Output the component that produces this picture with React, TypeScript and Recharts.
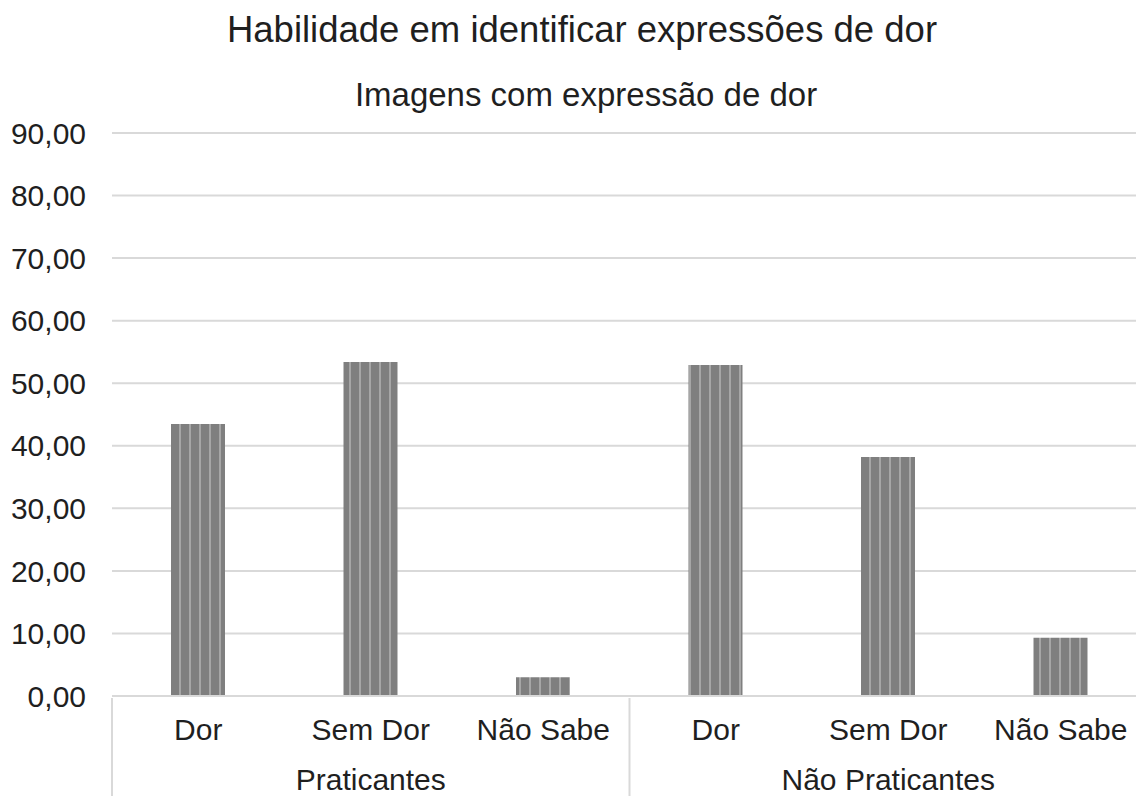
import * as React from "react";
import { BarChart, Bar, XAxis, YAxis, CartesianGrid } from "recharts";

const categories = ["Dor", "Sem Dor", "Não Sabe", "Dor", "Sem Dor", "Não Sabe"];
const groups = ["Praticantes", "Praticantes", "Praticantes", "Não Praticantes", "Não Praticantes", "Não Praticantes"];
const values = [43.5, 53.4, 3.0, 52.9, 38.2, 9.3];
const yTicks = [0, 10, 20, 30, 40, 50, 60, 70, 80, 90];

const title = "Habilidade em identificar expressões de dor";
const subtitle = "Imagens com expressão de dor";

const data = categories.map((c, i) => ({ name: c, group: groups[i], value: values[i] }));

const FONT = "'Liberation Sans', Arial, sans-serif";
const TEXT = "#1f1f1f";
const LINE = "#d9d9d9";

const fmt = (v: number) => v.toFixed(2).replace(".", ",");

// second row of the category axis: group name in the middle, separators at the edges
const GroupTick = (props: any) => {
  const { x, y, index, payload } = props;
  const half = payload && payload.offset ? payload.offset : 86;
  return (
    <g>
      {index % 3 === 0 && (
        <line x1={x - half} x2={x - half} y1={y - 50} y2={y + 50} stroke={LINE} strokeWidth={2} />
      )}
      {index % 3 === 1 && (
        <text x={x} y={y + 42} textAnchor="middle" fill={TEXT} fontSize={30} fontFamily={FONT}>
          {payload.value}
        </text>
      )}
    </g>
  );
};

export default function App() {
  return (
    <div style={{ position: "absolute", left: 0, top: 0, width: 1136, height: 796, background: "#fff", overflow: "hidden" }}>
      {/* the plot runs past the right edge of the picture, as in the original */}
      <BarChart
        width={1150}
        height={796}
        data={data}
        margin={{ top: 133, right: 3, left: 0, bottom: 0 }}
        barSize={54}
      >
        <defs>
          <pattern id="stripes" patternUnits="userSpaceOnUse" x={1} y={0} width={10} height={10}>
            <rect x={0} y={0} width={10} height={10} fill="#7f7f7f" />
            <rect x={8} y={0} width={2.5} height={10} fill="#a6a6a6" />
          </pattern>
        </defs>
        <CartesianGrid vertical={false} stroke={LINE} strokeWidth={2} />
        <XAxis
          dataKey="name"
          xAxisId="cat"
          height={50}
          tickLine={false}
          tickSize={0}
          tickMargin={23}
          interval={0}
          axisLine={{ stroke: LINE, strokeWidth: 2 }}
          tick={{ fill: TEXT, fontSize: 30, fontFamily: FONT }}
        />
        <XAxis
          dataKey="group"
          xAxisId="group"
          height={50}
          axisLine={false}
          tickLine={false}
          tickSize={0}
          interval={0}
          tick={<GroupTick />}
        />
        <YAxis
          width={112}
          domain={[0, 90]}
          ticks={yTicks}
          axisLine={false}
          tickLine={false}
          tickSize={0}
          tickMargin={26}
          tickFormatter={fmt}
          tick={{ fill: TEXT, fontSize: 30, fontFamily: FONT }}
        />
        <Bar dataKey="value" xAxisId="cat" fill="url(#stripes)" isAnimationActive={false} />
      </BarChart>
      <svg width={1136} height={120} style={{ position: "absolute", left: 0, top: 0, pointerEvents: "none" }}>
        <text x={582} y={42} textAnchor="middle" fill={TEXT} fontSize={36.5} fontFamily={FONT}>
          {title}
        </text>
        <text x={586} y={106} textAnchor="middle" fill={TEXT} fontSize={33} fontFamily={FONT}>
          {subtitle}
        </text>
      </svg>
    </div>
  );
}
